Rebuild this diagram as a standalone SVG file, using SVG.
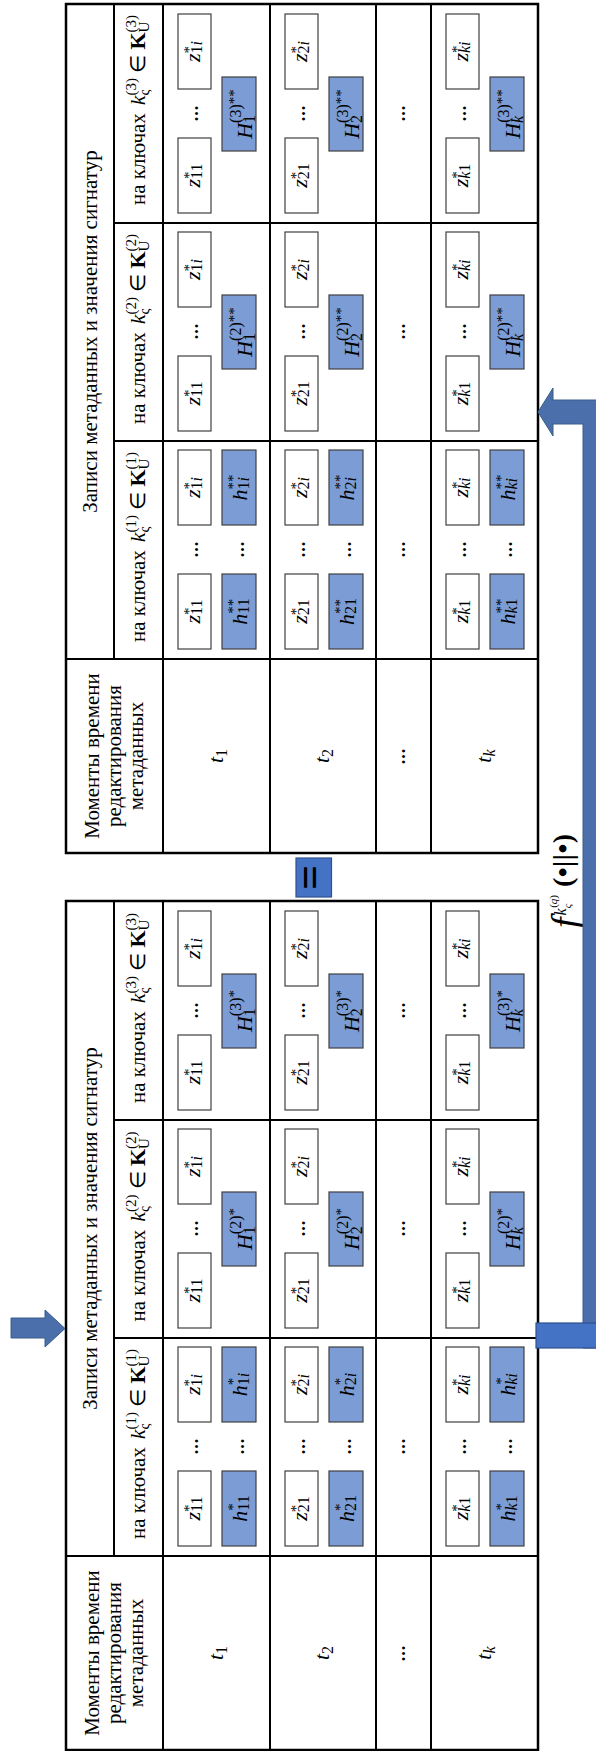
<svg xmlns="http://www.w3.org/2000/svg" width="596" height="1751" viewBox="0 0 596 1751">
<style>
.ln{stroke:#000;stroke-width:2;fill:none}
.ob{stroke:#000;stroke-width:2.5;fill:none}
.zb{fill:#fff;stroke:#404040;stroke-width:1.2}
.hb{fill:#7B9CD4;stroke:#404040;stroke-width:1.2}
text{font-family:"Liberation Serif","Times New Roman",serif;fill:#000}
.m{font-size:22px;font-style:italic;text-anchor:middle}
.sb{font-size:16px;font-style:normal}
.it{font-style:italic}
.st{font-size:15px;font-style:normal}
.sp{font-size:16px;font-style:normal}
.hd{font-size:21px;text-anchor:middle}
.kh{font-size:21px;text-anchor:middle}
.ks{font-size:15px;font-style:normal}
.dt{font-size:13px;text-anchor:middle;letter-spacing:1px}
.ar{fill:#4A6FAA;stroke:#3A5C8E;stroke-width:1}
.br{fill:#4472C4;stroke:#2F528F;stroke-width:1.2}
</style>
<rect width="596" height="1751" fill="#fff"/>
<g transform="translate(0,1751) rotate(-90)">
<!-- ================= TABLE 1 ================= -->
<g id="table1">
<g id="t1-grid">
<rect class="ob" x="1" y="66" width="849" height="472"/>
<line class="ln" x1="195" y1="66" x2="195" y2="538"/>
<line class="ln" x1="413" y1="114" x2="413" y2="538"/>
<line class="ln" x1="631" y1="114" x2="631" y2="538"/>
<line class="ln" x1="195" y1="114" x2="850" y2="114"/>
<line class="ln" x1="1" y1="163" x2="850" y2="163"/>
<line class="ln" x1="1" y1="270" x2="850" y2="270"/>
<line class="ln" x1="1" y1="376" x2="850" y2="376"/>
<line class="ln" x1="1" y1="431" x2="850" y2="431"/>
</g>
<g id="t1-header">
<text class="hd" x="522.5" y="97">Записи метаданных и значения сигнатур</text>
</g>
<g id="t1-moments">
<text class="hd" x="98" y="99">Моменты времени</text>
<text class="hd" x="98" y="121">редактирования</text>
<text class="hd" x="98" y="143">метаданных</text>
<text class="m" x="98" y="223">t<tspan class="sb" dy="4">1</tspan></text>
<text class="m" x="98" y="329">t<tspan class="sb" dy="4">2</tspan></text>
<text class="dt" x="98" y="408">•••</text>
<text class="m" x="98" y="491">t<tspan class="sb it" dy="4">k</tspan></text>
</g>
<g id="t1-k1-head"><text class="kh" x="307" y="145">на ключах<tspan class="it" dx="8" font-size="22">k</tspan><tspan class="ks it" dy="4">ς</tspan><tspan class="ks" dx="-6" dy="-13">(1)</tspan><tspan dy="9"> ∈ </tspan><tspan font-weight="bold" font-size="22">K</tspan><tspan class="ks it" dy="4">U</tspan><tspan class="ks" dx="-11" dy="-13">(1)</tspan></text></g>
<g id="t1-k2-head"><text class="kh" x="524.5" y="145">на ключах<tspan class="it" dx="8" font-size="22">k</tspan><tspan class="ks it" dy="4">ς</tspan><tspan class="ks" dx="-6" dy="-13">(2)</tspan><tspan dy="9"> ∈ </tspan><tspan font-weight="bold" font-size="22">K</tspan><tspan class="ks it" dy="4">U</tspan><tspan class="ks" dx="-11" dy="-13">(2)</tspan></text></g>
<g id="t1-k3-head"><text class="kh" x="743" y="145">на ключах<tspan class="it" dx="8" font-size="22">k</tspan><tspan class="ks it" dy="4">ς</tspan><tspan class="ks" dx="-6" dy="-13">(3)</tspan><tspan dy="9"> ∈ </tspan><tspan font-weight="bold" font-size="22">K</tspan><tspan class="ks it" dy="4">U</tspan><tspan class="ks" dx="-11" dy="-13">(3)</tspan></text></g>
<!-- K1 -->
<g id="t1-k1-r1">
<rect class="zb" x="205" y="178" width="75" height="33"/><rect class="zb" x="329" y="178" width="75" height="33"/>
<rect class="hb" x="205" y="222" width="75" height="34"/><rect class="hb" x="329" y="222" width="75" height="34"/>
<text class="m" x="242.5" y="200">z<tspan class="st" dy="-6">*</tspan><tspan class="sb" dx="-7.5" dy="8">11</tspan></text>
<text class="m" x="366.5" y="200">z<tspan class="st" dy="-6">*</tspan><tspan class="sb" dx="-7.5" dy="8">1<tspan class="it">i</tspan></tspan></text>
<text class="m" x="242.5" y="247">h<tspan class="st" dy="-9.5">*</tspan><tspan class="sb" dx="-7.5" dy="11.5">11</tspan></text>
<text class="m" x="366.5" y="247">h<tspan class="st" dy="-9.5">*</tspan><tspan class="sb" dx="-7.5" dy="11.5">1<tspan class="it">i</tspan></tspan></text>
<text class="dt" x="305" y="201">•••</text><text class="dt" x="305" y="247">•••</text>
</g>
<g id="t1-k1-r2">
<rect class="zb" x="205" y="285" width="75" height="33"/><rect class="zb" x="329" y="285" width="75" height="33"/>
<rect class="hb" x="205" y="329" width="75" height="34"/><rect class="hb" x="329" y="329" width="75" height="34"/>
<text class="m" x="242.5" y="307">z<tspan class="st" dy="-6">*</tspan><tspan class="sb" dx="-7.5" dy="8">21</tspan></text>
<text class="m" x="366.5" y="307">z<tspan class="st" dy="-6">*</tspan><tspan class="sb" dx="-7.5" dy="8">2<tspan class="it">i</tspan></tspan></text>
<text class="m" x="242.5" y="354">h<tspan class="st" dy="-9.5">*</tspan><tspan class="sb" dx="-7.5" dy="11.5">21</tspan></text>
<text class="m" x="366.5" y="354">h<tspan class="st" dy="-9.5">*</tspan><tspan class="sb" dx="-7.5" dy="11.5">2<tspan class="it">i</tspan></tspan></text>
<text class="dt" x="305" y="308">•••</text><text class="dt" x="305" y="354">•••</text>
</g>
<g id="t1-k1-r3"><text class="dt" x="305" y="408">•••</text></g>
<g id="t1-k1-r4">
<rect class="zb" x="205" y="446" width="75" height="33"/><rect class="zb" x="329" y="446" width="75" height="33"/>
<rect class="hb" x="205" y="490" width="75" height="34"/><rect class="hb" x="329" y="490" width="75" height="34"/>
<text class="m" x="242.5" y="468">z<tspan class="st" dy="-6">*</tspan><tspan class="sb" dx="-7.5" dy="8"><tspan class="it">k</tspan>1</tspan></text>
<text class="m" x="366.5" y="468">z<tspan class="st" dy="-6">*</tspan><tspan class="sb it" dx="-7.5" dy="8">ki</tspan></text>
<text class="m" x="242.5" y="515">h<tspan class="st" dy="-9.5">*</tspan><tspan class="sb" dx="-7.5" dy="11.5"><tspan class="it">k</tspan>1</tspan></text>
<text class="m" x="366.5" y="515">h<tspan class="st" dy="-9.5">*</tspan><tspan class="sb it" dx="-7.5" dy="11.5">ki</tspan></text>
<text class="dt" x="305" y="469">•••</text><text class="dt" x="305" y="515">•••</text>
</g>
<!-- K2 -->
<g id="t1-k2-r1">
<rect class="zb" x="423" y="178" width="75" height="33"/><rect class="zb" x="547" y="178" width="75" height="33"/>
<rect class="hb" x="485" y="222" width="74" height="34"/>
<text class="m" x="460.5" y="200">z<tspan class="st" dy="-6">*</tspan><tspan class="sb" dx="-7.5" dy="8">11</tspan></text>
<text class="m" x="584.5" y="200">z<tspan class="st" dy="-6">*</tspan><tspan class="sb" dx="-7.5" dy="8">1<tspan class="it">i</tspan></tspan></text>
<text class="m" x="522" y="252">H<tspan class="sb" dy="3">1</tspan><tspan class="sp" dx="-8" dy="-14">(2)</tspan><tspan class="st" dy="-2">*</tspan></text>
<text class="dt" x="523" y="201">•••</text>
</g>
<g id="t1-k2-r2">
<rect class="zb" x="423" y="285" width="75" height="33"/><rect class="zb" x="547" y="285" width="75" height="33"/>
<rect class="hb" x="485" y="329" width="74" height="34"/>
<text class="m" x="460.5" y="307">z<tspan class="st" dy="-6">*</tspan><tspan class="sb" dx="-7.5" dy="8">21</tspan></text>
<text class="m" x="584.5" y="307">z<tspan class="st" dy="-6">*</tspan><tspan class="sb" dx="-7.5" dy="8">2<tspan class="it">i</tspan></tspan></text>
<text class="m" x="522" y="359">H<tspan class="sb" dy="3">2</tspan><tspan class="sp" dx="-8" dy="-14">(2)</tspan><tspan class="st" dy="-2">*</tspan></text>
<text class="dt" x="523" y="308">•••</text>
</g>
<g id="t1-k2-r3"><text class="dt" x="523" y="408">•••</text></g>
<g id="t1-k2-r4">
<rect class="zb" x="423" y="446" width="75" height="33"/><rect class="zb" x="547" y="446" width="75" height="33"/>
<rect class="hb" x="485" y="490" width="74" height="34"/>
<text class="m" x="460.5" y="468">z<tspan class="st" dy="-6">*</tspan><tspan class="sb" dx="-7.5" dy="8"><tspan class="it">k</tspan>1</tspan></text>
<text class="m" x="584.5" y="468">z<tspan class="st" dy="-6">*</tspan><tspan class="sb it" dx="-7.5" dy="8">ki</tspan></text>
<text class="m" x="522" y="520">H<tspan class="sb it" dy="3">k</tspan><tspan class="sp" dx="-7" dy="-14">(2)</tspan><tspan class="st" dy="-2">*</tspan></text>
<text class="dt" x="523" y="469">•••</text>
</g>
<!-- K3 -->
<g id="t1-k3-r1">
<rect class="zb" x="641" y="178" width="75" height="33"/><rect class="zb" x="765" y="178" width="75" height="33"/>
<rect class="hb" x="703" y="222" width="74" height="34"/>
<text class="m" x="678.5" y="200">z<tspan class="st" dy="-6">*</tspan><tspan class="sb" dx="-7.5" dy="8">11</tspan></text>
<text class="m" x="802.5" y="200">z<tspan class="st" dy="-6">*</tspan><tspan class="sb" dx="-7.5" dy="8">1<tspan class="it">i</tspan></tspan></text>
<text class="m" x="740" y="252">H<tspan class="sb" dy="3">1</tspan><tspan class="sp" dx="-8" dy="-14">(3)</tspan><tspan class="st" dy="-2">*</tspan></text>
<text class="dt" x="741" y="201">•••</text>
</g>
<g id="t1-k3-r2">
<rect class="zb" x="641" y="285" width="75" height="33"/><rect class="zb" x="765" y="285" width="75" height="33"/>
<rect class="hb" x="703" y="329" width="74" height="34"/>
<text class="m" x="678.5" y="307">z<tspan class="st" dy="-6">*</tspan><tspan class="sb" dx="-7.5" dy="8">21</tspan></text>
<text class="m" x="802.5" y="307">z<tspan class="st" dy="-6">*</tspan><tspan class="sb" dx="-7.5" dy="8">2<tspan class="it">i</tspan></tspan></text>
<text class="m" x="740" y="359">H<tspan class="sb" dy="3">2</tspan><tspan class="sp" dx="-8" dy="-14">(3)</tspan><tspan class="st" dy="-2">*</tspan></text>
<text class="dt" x="741" y="308">•••</text>
</g>
<g id="t1-k3-r3"><text class="dt" x="741" y="408">•••</text></g>
<g id="t1-k3-r4">
<rect class="zb" x="641" y="446" width="75" height="33"/><rect class="zb" x="765" y="446" width="75" height="33"/>
<rect class="hb" x="703" y="490" width="74" height="34"/>
<text class="m" x="678.5" y="468">z<tspan class="st" dy="-6">*</tspan><tspan class="sb" dx="-7.5" dy="8"><tspan class="it">k</tspan>1</tspan></text>
<text class="m" x="802.5" y="468">z<tspan class="st" dy="-6">*</tspan><tspan class="sb it" dx="-7.5" dy="8">ki</tspan></text>
<text class="m" x="740" y="520">H<tspan class="sb it" dy="3">k</tspan><tspan class="sp" dx="-7" dy="-14">(3)</tspan><tspan class="st" dy="-2">*</tspan></text>
<text class="dt" x="741" y="469">•••</text>
</g>
</g>
<!-- ================= EQUAL ================= -->
<g id="equal">
<rect class="br" x="854" y="296" width="39" height="35.5"/>
<text x="873.5" y="324" style="font-size:44px;font-weight:bold;text-anchor:middle">=</text>
</g>
<!-- ================= FUNCTION LABEL ================= -->
<g id="f-label">
<text x="823" y="578" style="font-size:38px;font-style:italic">f<tspan style="font-size:16px" dx="2" dy="-12">k</tspan><tspan style="font-size:11px" dy="5">ς</tspan><tspan style="font-size:11px;font-style:normal" dx="-4" dy="-14">(<tspan style="font-style:italic">q</tspan>)</tspan><tspan style="font-size:28px;font-style:normal;font-weight:bold;letter-spacing:0.5px" dx="8" dy="15">(•||•)</tspan></text>
</g>
<!-- ================= TABLE 2 ================= -->
<g id="table2">
<g id="t2-grid">
<rect class="ob" x="898" y="66" width="849" height="472"/>
<line class="ln" x1="1092" y1="66" x2="1092" y2="538"/>
<line class="ln" x1="1310" y1="114" x2="1310" y2="538"/>
<line class="ln" x1="1528" y1="114" x2="1528" y2="538"/>
<line class="ln" x1="1092" y1="114" x2="1747" y2="114"/>
<line class="ln" x1="898" y1="163" x2="1747" y2="163"/>
<line class="ln" x1="898" y1="270" x2="1747" y2="270"/>
<line class="ln" x1="898" y1="376" x2="1747" y2="376"/>
<line class="ln" x1="898" y1="431" x2="1747" y2="431"/>
</g>
<g id="t2-header">
<text class="hd" x="1419.5" y="97">Записи метаданных и значения сигнатур</text>
</g>
<g id="t2-moments">
<text class="hd" x="995" y="99">Моменты времени</text>
<text class="hd" x="995" y="121">редактирования</text>
<text class="hd" x="995" y="143">метаданных</text>
<text class="m" x="995" y="223">t<tspan class="sb" dy="4">1</tspan></text>
<text class="m" x="995" y="329">t<tspan class="sb" dy="4">2</tspan></text>
<text class="dt" x="995" y="408">•••</text>
<text class="m" x="995" y="491">t<tspan class="sb it" dy="4">k</tspan></text>
</g>
<g id="t2-k1-head"><text class="kh" x="1204" y="145">на ключах<tspan class="it" dx="8" font-size="22">k</tspan><tspan class="ks it" dy="4">ς</tspan><tspan class="ks" dx="-6" dy="-13">(1)</tspan><tspan dy="9"> ∈ </tspan><tspan font-weight="bold" font-size="22">K</tspan><tspan class="ks it" dy="4">U</tspan><tspan class="ks" dx="-11" dy="-13">(1)</tspan></text></g>
<g id="t2-k2-head"><text class="kh" x="1422" y="145">на ключах<tspan class="it" dx="8" font-size="22">k</tspan><tspan class="ks it" dy="4">ς</tspan><tspan class="ks" dx="-6" dy="-13">(2)</tspan><tspan dy="9"> ∈ </tspan><tspan font-weight="bold" font-size="22">K</tspan><tspan class="ks it" dy="4">U</tspan><tspan class="ks" dx="-11" dy="-13">(2)</tspan></text></g>
<g id="t2-k3-head"><text class="kh" x="1641" y="145">на ключах<tspan class="it" dx="8" font-size="22">k</tspan><tspan class="ks it" dy="4">ς</tspan><tspan class="ks" dx="-6" dy="-13">(3)</tspan><tspan dy="9"> ∈ </tspan><tspan font-weight="bold" font-size="22">K</tspan><tspan class="ks it" dy="4">U</tspan><tspan class="ks" dx="-11" dy="-13">(3)</tspan></text></g>
<!-- K1 -->
<g id="t2-k1-r1">
<rect class="zb" x="1102" y="178" width="75" height="33"/><rect class="zb" x="1226" y="178" width="75" height="33"/>
<rect class="hb" x="1102" y="222" width="75" height="34"/><rect class="hb" x="1226" y="222" width="75" height="34"/>
<text class="m" x="1139.5" y="200">z<tspan class="st" dy="-6">*</tspan><tspan class="sb" dx="-7.5" dy="8">11</tspan></text>
<text class="m" x="1263.5" y="200">z<tspan class="st" dy="-6">*</tspan><tspan class="sb" dx="-7.5" dy="8">1<tspan class="it">i</tspan></tspan></text>
<text class="m" x="1139.5" y="247">h<tspan class="st" dy="-9.5">**</tspan><tspan class="sb" dx="-15" dy="11.5">11</tspan></text>
<text class="m" x="1263.5" y="247">h<tspan class="st" dy="-9.5">**</tspan><tspan class="sb" dx="-15" dy="11.5">1<tspan class="it">i</tspan></tspan></text>
<text class="dt" x="1202" y="201">•••</text><text class="dt" x="1202" y="247">•••</text>
</g>
<g id="t2-k1-r2">
<rect class="zb" x="1102" y="285" width="75" height="33"/><rect class="zb" x="1226" y="285" width="75" height="33"/>
<rect class="hb" x="1102" y="329" width="75" height="34"/><rect class="hb" x="1226" y="329" width="75" height="34"/>
<text class="m" x="1139.5" y="307">z<tspan class="st" dy="-6">*</tspan><tspan class="sb" dx="-7.5" dy="8">21</tspan></text>
<text class="m" x="1263.5" y="307">z<tspan class="st" dy="-6">*</tspan><tspan class="sb" dx="-7.5" dy="8">2<tspan class="it">i</tspan></tspan></text>
<text class="m" x="1139.5" y="354">h<tspan class="st" dy="-9.5">**</tspan><tspan class="sb" dx="-15" dy="11.5">21</tspan></text>
<text class="m" x="1263.5" y="354">h<tspan class="st" dy="-9.5">**</tspan><tspan class="sb" dx="-15" dy="11.5">2<tspan class="it">i</tspan></tspan></text>
<text class="dt" x="1202" y="308">•••</text><text class="dt" x="1202" y="354">•••</text>
</g>
<g id="t2-k1-r3"><text class="dt" x="1202" y="408">•••</text></g>
<g id="t2-k1-r4">
<rect class="zb" x="1102" y="446" width="75" height="33"/><rect class="zb" x="1226" y="446" width="75" height="33"/>
<rect class="hb" x="1102" y="490" width="75" height="34"/><rect class="hb" x="1226" y="490" width="75" height="34"/>
<text class="m" x="1139.5" y="468">z<tspan class="st" dy="-6">*</tspan><tspan class="sb" dx="-7.5" dy="8"><tspan class="it">k</tspan>1</tspan></text>
<text class="m" x="1263.5" y="468">z<tspan class="st" dy="-6">*</tspan><tspan class="sb it" dx="-7.5" dy="8">ki</tspan></text>
<text class="m" x="1139.5" y="515">h<tspan class="st" dy="-9.5">**</tspan><tspan class="sb" dx="-15" dy="11.5"><tspan class="it">k</tspan>1</tspan></text>
<text class="m" x="1263.5" y="515">h<tspan class="st" dy="-9.5">**</tspan><tspan class="sb it" dx="-15" dy="11.5">ki</tspan></text>
<text class="dt" x="1202" y="469">•••</text><text class="dt" x="1202" y="515">•••</text>
</g>
<!-- K2 -->
<g id="t2-k2-r1">
<rect class="zb" x="1320" y="178" width="75" height="33"/><rect class="zb" x="1444" y="178" width="75" height="33"/>
<rect class="hb" x="1382" y="222" width="74" height="34"/>
<text class="m" x="1357.5" y="200">z<tspan class="st" dy="-6">*</tspan><tspan class="sb" dx="-7.5" dy="8">11</tspan></text>
<text class="m" x="1481.5" y="200">z<tspan class="st" dy="-6">*</tspan><tspan class="sb" dx="-7.5" dy="8">1<tspan class="it">i</tspan></tspan></text>
<text class="m" x="1419" y="252">H<tspan class="sb" dy="3">1</tspan><tspan class="sp" dx="-8" dy="-14">(2)</tspan><tspan class="st" dy="-2">**</tspan></text>
<text class="dt" x="1420" y="201">•••</text>
</g>
<g id="t2-k2-r2">
<rect class="zb" x="1320" y="285" width="75" height="33"/><rect class="zb" x="1444" y="285" width="75" height="33"/>
<rect class="hb" x="1382" y="329" width="74" height="34"/>
<text class="m" x="1357.5" y="307">z<tspan class="st" dy="-6">*</tspan><tspan class="sb" dx="-7.5" dy="8">21</tspan></text>
<text class="m" x="1481.5" y="307">z<tspan class="st" dy="-6">*</tspan><tspan class="sb" dx="-7.5" dy="8">2<tspan class="it">i</tspan></tspan></text>
<text class="m" x="1419" y="359">H<tspan class="sb" dy="3">2</tspan><tspan class="sp" dx="-8" dy="-14">(2)</tspan><tspan class="st" dy="-2">**</tspan></text>
<text class="dt" x="1420" y="308">•••</text>
</g>
<g id="t2-k2-r3"><text class="dt" x="1420" y="408">•••</text></g>
<g id="t2-k2-r4">
<rect class="zb" x="1320" y="446" width="75" height="33"/><rect class="zb" x="1444" y="446" width="75" height="33"/>
<rect class="hb" x="1382" y="490" width="74" height="34"/>
<text class="m" x="1357.5" y="468">z<tspan class="st" dy="-6">*</tspan><tspan class="sb" dx="-7.5" dy="8"><tspan class="it">k</tspan>1</tspan></text>
<text class="m" x="1481.5" y="468">z<tspan class="st" dy="-6">*</tspan><tspan class="sb it" dx="-7.5" dy="8">ki</tspan></text>
<text class="m" x="1419" y="520">H<tspan class="sb it" dy="3">k</tspan><tspan class="sp" dx="-7" dy="-14">(2)</tspan><tspan class="st" dy="-2">**</tspan></text>
<text class="dt" x="1420" y="469">•••</text>
</g>
<!-- K3 -->
<g id="t2-k3-r1">
<rect class="zb" x="1538" y="178" width="75" height="33"/><rect class="zb" x="1662" y="178" width="75" height="33"/>
<rect class="hb" x="1600" y="222" width="74" height="34"/>
<text class="m" x="1575.5" y="200">z<tspan class="st" dy="-6">*</tspan><tspan class="sb" dx="-7.5" dy="8">11</tspan></text>
<text class="m" x="1699.5" y="200">z<tspan class="st" dy="-6">*</tspan><tspan class="sb" dx="-7.5" dy="8">1<tspan class="it">i</tspan></tspan></text>
<text class="m" x="1637" y="252">H<tspan class="sb" dy="3">1</tspan><tspan class="sp" dx="-8" dy="-14">(3)</tspan><tspan class="st" dy="-2">**</tspan></text>
<text class="dt" x="1638" y="201">•••</text>
</g>
<g id="t2-k3-r2">
<rect class="zb" x="1538" y="285" width="75" height="33"/><rect class="zb" x="1662" y="285" width="75" height="33"/>
<rect class="hb" x="1600" y="329" width="74" height="34"/>
<text class="m" x="1575.5" y="307">z<tspan class="st" dy="-6">*</tspan><tspan class="sb" dx="-7.5" dy="8">21</tspan></text>
<text class="m" x="1699.5" y="307">z<tspan class="st" dy="-6">*</tspan><tspan class="sb" dx="-7.5" dy="8">2<tspan class="it">i</tspan></tspan></text>
<text class="m" x="1637" y="359">H<tspan class="sb" dy="3">2</tspan><tspan class="sp" dx="-8" dy="-14">(3)</tspan><tspan class="st" dy="-2">**</tspan></text>
<text class="dt" x="1638" y="308">•••</text>
</g>
<g id="t2-k3-r3"><text class="dt" x="1638" y="408">•••</text></g>
<g id="t2-k3-r4">
<rect class="zb" x="1538" y="446" width="75" height="33"/><rect class="zb" x="1662" y="446" width="75" height="33"/>
<rect class="hb" x="1600" y="490" width="74" height="34"/>
<text class="m" x="1575.5" y="468">z<tspan class="st" dy="-6">*</tspan><tspan class="sb" dx="-7.5" dy="8"><tspan class="it">k</tspan>1</tspan></text>
<text class="m" x="1699.5" y="468">z<tspan class="st" dy="-6">*</tspan><tspan class="sb it" dx="-7.5" dy="8">ki</tspan></text>
<text class="m" x="1637" y="520">H<tspan class="sb it" dy="3">k</tspan><tspan class="sp" dx="-7" dy="-14">(3)</tspan><tspan class="st" dy="-2">**</tspan></text>
<text class="dt" x="1638" y="469">•••</text>
</g>
</g>
</g>
<!-- ================= CONNECTORS ================= -->
<g id="connectors">
<polygon class="ar" points="11,1318 45,1318 45,1310 65,1328.5 45,1347 45,1338 11,1338"/>
<polygon class="ar" points="538,412 553,388 553,400 610,400 610,1348 583,1348 583,424 553,424 553,436"/>
<rect class="br" x="536" y="1323" width="70" height="25"/>
</g>
</svg>
